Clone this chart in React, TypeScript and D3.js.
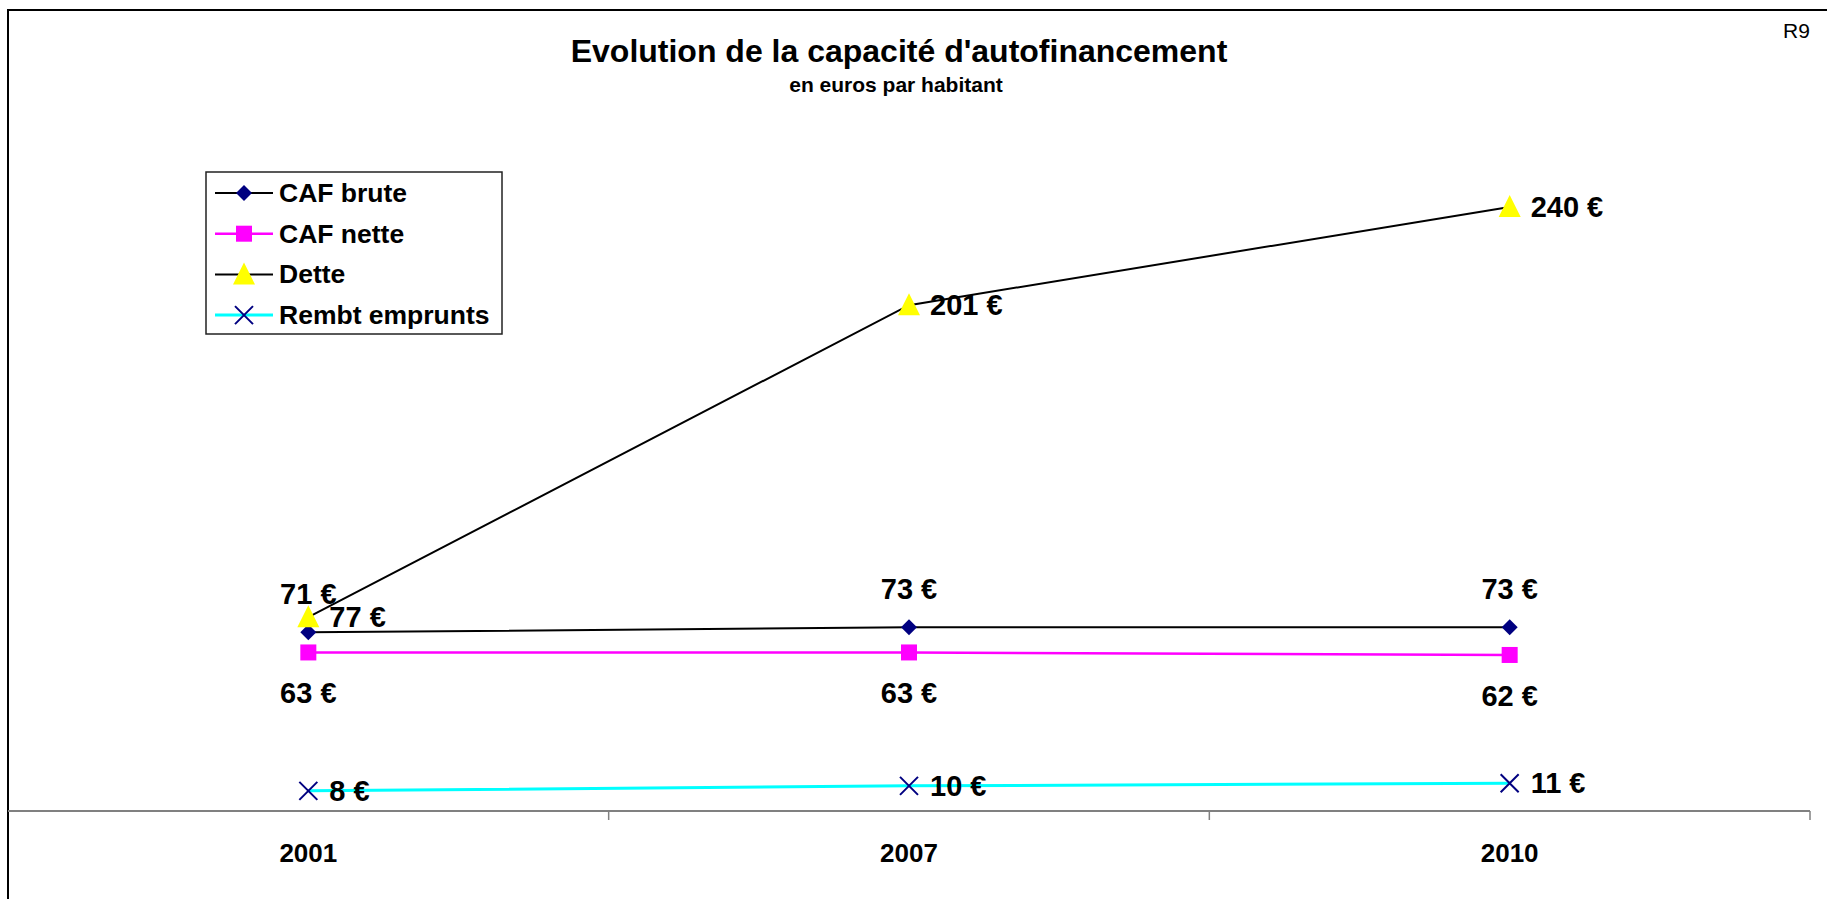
import React, { useEffect, useRef } from 'react';
import * as d3 from 'd3';

// Data
const years = ['2001', '2007', '2010'];
const cafBrute = [71, 73, 73];
const cafNette = [63, 63, 62];
const dette = [77, 201, 240];
const rembtEmprunts = [8, 10, 11];

const WIDTH = 1827;
const HEIGHT = 899;
const FONT = '"Liberation Sans", Arial, sans-serif';

type Marker = 'diamond' | 'square' | 'triangle' | 'cross';

interface Series {
  name: string;
  values: number[];
  line: string;
  lineWidth: number;
  marker: Marker;
  markerColor: string;
  labelPos: 'above' | 'below' | 'right';
}

const series: Series[] = [
  { name: 'CAF brute', values: cafBrute, line: '#000000', lineWidth: 2, marker: 'diamond', markerColor: '#000080', labelPos: 'above' },
  { name: 'CAF nette', values: cafNette, line: '#ff00ff', lineWidth: 2.5, marker: 'square', markerColor: '#ff00ff', labelPos: 'below' },
  { name: 'Dette', values: dette, line: '#000000', lineWidth: 2, marker: 'triangle', markerColor: '#ffff00', labelPos: 'right' },
  { name: 'Rembt emprunts', values: rembtEmprunts, line: '#00ffff', lineWidth: 3, marker: 'cross', markerColor: '#000080', labelPos: 'right' },
];

function drawMarker(g: d3.Selection<SVGGElement, unknown, null, undefined>, m: Marker, color: string, x: number, y: number) {
  if (m === 'diamond') {
    g.append('path').attr('d', `M${x},${y - 8}L${x + 8},${y}L${x},${y + 8}L${x - 8},${y}Z`).attr('fill', color);
  } else if (m === 'square') {
    g.append('rect').attr('x', x - 8).attr('y', y - 8).attr('width', 16).attr('height', 16).attr('fill', color);
  } else if (m === 'triangle') {
    g.append('path').attr('d', `M${x},${y - 12}L${x + 11},${y + 10}L${x - 11},${y + 10}Z`).attr('fill', color);
  } else {
    g.append('path')
      .attr('d', `M${x - 9},${y - 9}L${x + 9},${y + 9}M${x + 9},${y - 9}L${x - 9},${y + 9}`)
      .attr('stroke', color)
      .attr('stroke-width', 2)
      .attr('fill', 'none');
  }
}

export default function App() {
  const svgRef = useRef<SVGSVGElement>(null);

  useEffect(() => {
    if (!svgRef.current) return;
    document.body.style.margin = '0';
    const svg = d3.select(svgRef.current);
    svg.selectAll('*').remove();

    const x = d3.scaleBand<string>().domain(years).range([8, 1810]).padding(0);
    const y = d3.scaleLinear().domain([0, 300]).range([811, 56]);
    const cx = (c: string) => (x(c) || 0) + x.bandwidth() / 2;

    // chart frame (top + left edges)
    svg.append('path').attr('d', `M8,${HEIGHT}V10H${WIDTH}`).attr('fill', 'none').attr('stroke', '#000').attr('stroke-width', 2);

    // titles
    svg.append('text').attr('x', 899).attr('y', 62).attr('text-anchor', 'middle')
      .style('font-size', '32px').style('font-weight', 700).text("Evolution de la capacité d'autofinancement");
    svg.append('text').attr('x', 896).attr('y', 92).attr('text-anchor', 'middle')
      .style('font-size', '21px').style('font-weight', 700).text('en euros par habitant');
    svg.append('text').attr('x', 1783).attr('y', 38).style('font-size', '21px').text('R9');

    // category axis
    svg.append('line').attr('x1', 8).attr('x2', 1810).attr('y1', y(0)).attr('y2', y(0))
      .attr('stroke', '#808080').attr('stroke-width', 2);
    years.forEach(c => {
      const tx = (x(c) || 0) + x.bandwidth();
      svg.append('line').attr('x1', tx).attr('x2', tx).attr('y1', y(0)).attr('y2', y(0) + 9)
        .attr('stroke', '#808080').attr('stroke-width', 1.5);
      svg.append('text').attr('x', cx(c)).attr('y', 862).attr('text-anchor', 'middle')
        .style('font-size', '26px').style('font-weight', 700).text(c);
    });

    // lines
    const line = d3.line<number>().x((_, i) => cx(years[i])).y(d => y(d));
    series.forEach(s => {
      svg.append('path').attr('d', line(s.values) || '').attr('fill', 'none')
        .attr('stroke', s.line).attr('stroke-width', s.lineWidth);
    });

    // markers
    const mg = svg.append('g');
    [3, 0, 1, 2].forEach(k => {
      const s = series[k];
      s.values.forEach((v, i) => drawMarker(mg as any, s.marker, s.markerColor, cx(years[i]), y(v)));
    });

    // data labels
    series.forEach(s => {
      s.values.forEach((v, i) => {
        const px = cx(years[i]);
        const py = y(v);
        const t = svg.append('text').style('font-size', '29px').style('font-weight', 700).text(`${v} €`);
        if (s.labelPos === 'above') t.attr('x', px).attr('y', py - 28).attr('text-anchor', 'middle');
        else if (s.labelPos === 'below') t.attr('x', px).attr('y', py + 51).attr('text-anchor', 'middle');
        else t.attr('x', px + 21).attr('y', py + 10);
      });
    });

    // legend
    const lg = svg.append('g');
    lg.append('rect').attr('x', 206).attr('y', 172).attr('width', 296).attr('height', 162)
      .attr('fill', '#fff').attr('stroke', '#222').attr('stroke-width', 1.5);
    series.forEach((s, i) => {
      const ry = 193 + i * 40.7;
      lg.append('line').attr('x1', 215).attr('x2', 273).attr('y1', ry).attr('y2', ry)
        .attr('stroke', s.line).attr('stroke-width', s.lineWidth);
      drawMarker(lg as any, s.marker, s.markerColor, 244, ry);
      lg.append('text').attr('x', 279).attr('y', ry + 9).style('font-size', '26.5px').style('font-weight', 700).text(s.name);
    });
  }, []);

  return (
    <svg
      ref={svgRef}
      width={WIDTH}
      height={HEIGHT}
      style={{ display: 'block', background: '#fff', fontFamily: FONT }}
    />
  );
}
